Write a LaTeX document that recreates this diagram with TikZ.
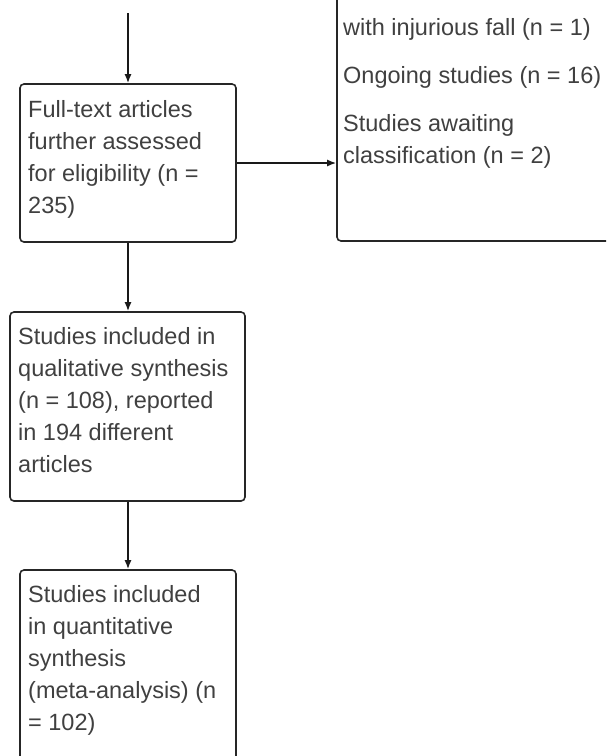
\documentclass[tikz,border=0pt]{standalone}
\usepackage{fontspec}
\setmainfont{Liberation Sans}
\usetikzlibrary{arrows.meta}
\newcommand\mystrut{\rule{0pt}{20pt}}
\tikzset{
  boxnode/.style={draw=black!85, line width=1.6pt, rounded corners=4pt, inner sep=0pt, fill=none},
  txt/.style={font=\fontsize{23.5}{32}\selectfont, text=black!75, inner sep=0pt, align=left, anchor=north west},
  arr/.style={draw=black!90, line width=1.6pt, -{Latex[length=9pt,width=7pt]}}
}
\begin{document}
\begin{tikzpicture}[x=1pt,y=-1pt]
\useasboundingbox (0,0) rectangle (606,756);
\clip (0,0) rectangle (606,756);
\coordinate (top) at (128,13);
\node[boxnode, minimum width=216pt, minimum height=158pt] (b1) at (128,163) {};
\node[boxnode, minimum width=235pt, minimum height=189pt] (b2) at (127.5,406.5) {};
\node[boxnode, minimum width=216pt, minimum height=230pt] (b3) at (128,685) {};
\node[boxnode, minimum width=323pt, minimum height=281pt] (rb) at (498.5,100.5) {};
\node[txt] (t1) at (28,97) {\mystrut Full-text articles\\further assessed\\for eligibility (n =\\235)};
\node[txt] (t2) at (18,324) {\mystrut Studies included in\\qualitative synthesis\\(n = 108), reported\\in 194 different\\articles};
\node[txt] (t3) at (28,582) {\mystrut Studies included\\in quantitative\\synthesis\\(meta-analysis) (n\\= 102)};
\node[txt] (t4) at (343,15) {\mystrut with injurious fall (n = 1)\\[16pt]Ongoing studies (n = 16)\\[16pt]Studies awaiting\\classification (n = 2)};
\draw[arr] (top) -- (b1.north);
\draw[arr] (b1.east) -- (b1.east -| rb.west);
\draw[arr] (b1.south) -- (b1.south |- b2.north);
\draw[arr] (b1.south |- b2.south) -- (b1.south |- b3.north);
\end{tikzpicture}
\end{document}
